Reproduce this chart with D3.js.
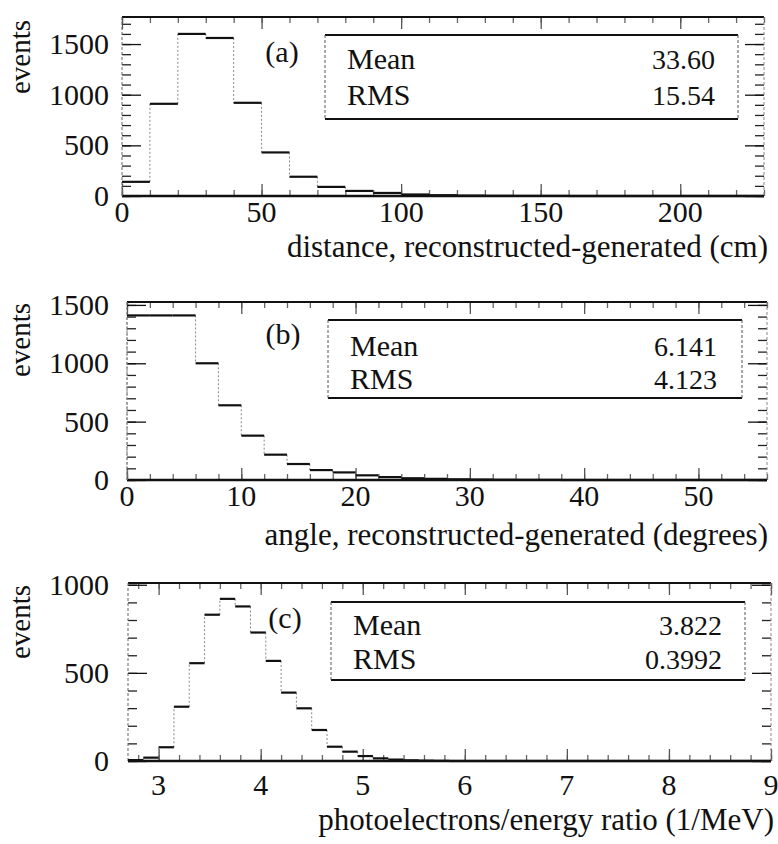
<!DOCTYPE html>
<html><head><meta charset="utf-8">
<script src="https://cdn.jsdelivr.net/npm/d3@7"></script>
<style>
html,body{margin:0;padding:0;background:#fff;}
svg{display:block;}
text{font-family:"Liberation Serif","Times New Roman",serif;fill:#111;}
</style></head>
<body><svg id="c" width="778" height="844"></svg>
<script>
// ---- data ----
const panelTags = ["(a)", "(b)", "(c)"];
const xTitles = ["distance, reconstructed-generated (cm)",
                 "angle, reconstructed-generated (degrees)",
                 "photoelectrons/energy ratio (1/MeV)"];
const yTitle = "events";
const statNames = ["Mean", "RMS"];
const statsA = ["33.60", "15.54"];
const statsB = ["6.141", "4.123"];
const statsC = ["3.822", "0.3992"];

// (a) distance, 10 cm bins starting at 0
const binStartA = 0, binWidthA = 10;
const countsA = [140, 910, 1600, 1560, 920, 430, 190, 90, 50, 30, 15, 8, 4, 2, 1, 1, 0, 0, 0, 0, 0, 0, 0];
const xTicksA = [0, 50, 100, 150, 200];
const yTicksA = [0, 500, 1000, 1500];

// (b) angle, 2 degree bins starting at 0
const binStartB = 0, binWidthB = 2;
const countsB = [1410, 1410, 1410, 1000, 640, 380, 217, 137, 85, 65, 40, 25, 15, 10, 6, 4, 2, 1, 1, 0, 0, 0, 0, 0, 0, 0, 0, 0];
const xTicksB = [0, 10, 20, 30, 40, 50];
const yTicksB = [0, 500, 1000, 1500];

// (c) photoelectrons/energy, 0.15 bins starting at 2.7
const binStartC = 2.7, binWidthC = 0.15;
const countsC = [5, 19, 78, 308, 555, 830, 920, 877, 729, 568, 388, 299, 176, 81, 53, 28, 15, 8, 4, 2, 1, 0, 0, 0, 0, 0, 0, 0, 0, 0, 0, 0, 0, 0, 0, 0, 0, 0, 0, 0, 0, 0];
const xTicksC = [3, 4, 5, 6, 7, 8, 9];
const yTicksC = [0, 500, 1000];

// ---- layout ----
const panels = [
  {counts: countsA, b0: binStartA, bw: binWidthA, xd: [0, 230], yd: [0, 1767], xt: xTicksA, xMinor: 10, yt: yTicksA, yMinor: 100, stats: statsA,
   L: 122, R: 764, T: 17, B: 196, tag: [282, 62], box: [325, 35, 738, 119], rows: [69, 105], valX: 715, titleY: 257, titleR: 768, tickY: 222, evY: 57},
  {counts: countsB, b0: binStartB, bw: binWidthB, xd: [0, 56], yd: [0, 1525], xt: xTicksB, xMinor: 2, yt: yTicksB, yMinor: 100, stats: statsB,
   L: 127, R: 767, T: 302, B: 480, tag: [283, 344], box: [328, 320, 742, 398], rows: [356, 389], valX: 717, titleY: 545, titleR: 768, tickY: 506, evY: 340},
  {counts: countsC, b0: binStartC, bw: binWidthC, xd: [2.7, 9], yd: [0, 1010], xt: xTicksC, xMinor: 0.2, yt: yTicksC, yMinor: 100, stats: statsC,
   L: 128, R: 771, T: 583, B: 761, tag: [285, 628], box: [331, 602, 745, 680], rows: [635, 669], valX: 722, titleY: 830, titleR: 774, tickY: 795, evY: 622}
];

const svg = d3.select("#c");
const FS_TICK = 30, FS_TITLE = 31, FS_NAME = 30, FS_VAL = 28;

panels.forEach((p, pi) => {
  const g = svg.append("g");
  const x = d3.scaleLinear().domain(p.xd).range([p.L, p.R]);
  const y = d3.scaleLinear().domain(p.yd).range([p.B, p.T]);

  const nMinX = Math.round((p.xd[1] - p.xd[0]) / p.xMinor);
  const minorX = d3.range(0, nMinX + 1).map(i => +(Math.ceil(p.xd[0] / p.xMinor - 1e-9) * p.xMinor + i * p.xMinor).toFixed(4)).filter(v => v >= p.xd[0] && v <= p.xd[1]);
  const minorY = d3.range(p.yd[0], p.yd[1] + 1e-9, p.yMinor);

  const tickStyle = col => sel => { sel.select(".domain").remove(); sel.selectAll("line").attr("stroke", col).attr("stroke-width", 1.3); sel.selectAll("text").remove(); };

  g.append("g").attr("transform", `translate(0,${p.B})`).call(d3.axisBottom(x).tickValues(minorX).tickSize(-6)).call(tickStyle("#666"));
  g.append("g").attr("transform", `translate(0,${p.B})`).call(d3.axisBottom(x).tickValues(p.xt).tickSize(-12)).call(tickStyle("#555"));
  g.append("g").attr("transform", `translate(0,${p.T})`).call(d3.axisTop(x).tickValues(minorX).tickSize(-6)).call(tickStyle("#666"));
  g.append("g").attr("transform", `translate(0,${p.T})`).call(d3.axisTop(x).tickValues(p.xt).tickSize(-12)).call(tickStyle("#555"));
  g.append("g").attr("transform", `translate(${p.L},0)`).call(d3.axisLeft(y).tickValues(minorY).tickSize(-9)).call(tickStyle("#222"));
  g.append("g").attr("transform", `translate(${p.L},0)`).call(d3.axisLeft(y).tickValues(p.yt).tickSize(-19)).call(tickStyle("#111"));
  g.append("g").attr("transform", `translate(${p.R},0)`).call(d3.axisRight(y).tickValues(minorY).tickSize(-9)).call(tickStyle("#222"));
  g.append("g").attr("transform", `translate(${p.R},0)`).call(d3.axisRight(y).tickValues(p.yt).tickSize(-19)).call(tickStyle("#111"));

  // frame
  g.append("line").attr("x1", p.L).attr("x2", p.R).attr("y1", p.T).attr("y2", p.T).attr("stroke", "#111").attr("stroke-width", 2.2);
  g.append("line").attr("x1", p.L).attr("x2", p.R).attr("y1", p.B).attr("y2", p.B).attr("stroke", "#111").attr("stroke-width", 2.4);
  g.append("line").attr("x1", p.L).attr("x2", p.L).attr("y1", p.T).attr("y2", p.B).attr("stroke", "#666").attr("stroke-width", 1).attr("stroke-dasharray", "3,2");
  g.append("line").attr("x1", p.R).attr("x2", p.R).attr("y1", p.T).attr("y2", p.B).attr("stroke", "#888").attr("stroke-width", 1).attr("stroke-dasharray", "3,2");

  // histogram
  const bins = p.counts.map((c, i) => ({x0: p.b0 + i * p.bw, x1: p.b0 + (i + 1) * p.bw, c}))
    .filter(b => b.x0 < p.xd[1] - 1e-9);
  const cx = v => x(Math.min(v, p.xd[1]));
  bins.forEach((b, i) => {
    const prev = i === 0 ? 0 : bins[i - 1].c;
    if (prev !== b.c) {
      g.append("line").attr("x1", cx(b.x0)).attr("x2", cx(b.x0)).attr("y1", y(prev)).attr("y2", y(b.c))
        .attr("stroke", "#888").attr("stroke-width", 1).attr("stroke-dasharray", "2,2");
    }
  });
  g.selectAll(null).data(bins).enter().append("line")
    .attr("x1", b => cx(b.x0)).attr("x2", b => cx(b.x1))
    .attr("y1", b => y(b.c)).attr("y2", b => y(b.c))
    .attr("stroke", "#111").attr("stroke-width", 2.2);

  // tick labels
  g.selectAll(null).data(p.xt).enter().append("text")
    .attr("x", d => x(d)).attr("y", p.tickY).attr("text-anchor", "middle").attr("font-size", FS_TICK)
    .text(d => d3.format("d")(d));
  g.selectAll(null).data(p.yt).enter().append("text")
    .attr("x", 109).attr("y", d => y(d) + 10).attr("text-anchor", "end").attr("font-size", FS_TICK)
    .text(d => d3.format("d")(d));

  // titles
  g.append("text").attr("transform", `translate(${30},${p.evY}) rotate(-90)`).attr("text-anchor", "middle")
    .attr("font-size", 29).text(yTitle);
  g.append("text").attr("x", p.titleR).attr("y", p.titleY).attr("text-anchor", "end").attr("font-size", FS_TITLE).text(xTitles[pi]);

  // panel tag
  g.append("text").attr("x", p.tag[0]).attr("y", p.tag[1]).attr("text-anchor", "middle").attr("font-size", 30).text(panelTags[pi]);

  // stats box
  const [bx0, by0, bx1, by1] = p.box;
  g.append("rect").attr("x", bx0).attr("y", by0).attr("width", bx1 - bx0).attr("height", by1 - by0).attr("fill", "#fff");
  g.append("line").attr("x1", bx0).attr("x2", bx1).attr("y1", by0).attr("y2", by0).attr("stroke", "#111").attr("stroke-width", 2);
  g.append("line").attr("x1", bx0).attr("x2", bx1).attr("y1", by1).attr("y2", by1).attr("stroke", "#111").attr("stroke-width", 2);
  [bx0, bx1].forEach(xx => g.append("line").attr("x1", xx).attr("x2", xx).attr("y1", by0).attr("y2", by1)
    .attr("stroke", "#555").attr("stroke-width", 1).attr("stroke-dasharray", "3,2"));
  statNames.forEach((n, i) => {
    g.append("text").attr("x", bx0 + 22).attr("y", p.rows[i]).attr("font-size", FS_NAME).text(n);
    g.append("text").attr("x", p.valX).attr("y", p.rows[i]).attr("text-anchor", "end").attr("font-size", FS_VAL).text(p.stats[i]);
  });
});
</script></body></html>
